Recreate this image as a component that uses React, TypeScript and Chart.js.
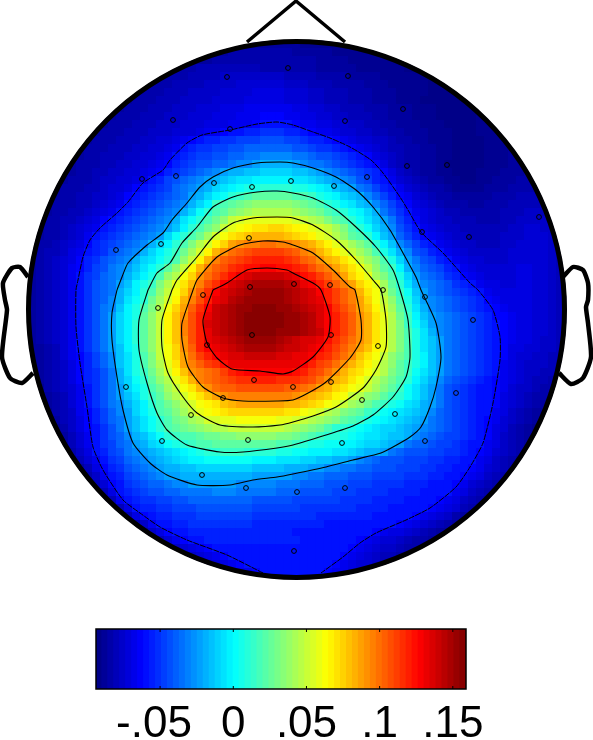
import React, { useEffect, useRef } from "react";
import { Chart, registerables } from "chart.js";

Chart.register(...registerables);

// Potential scale
const valueMin = -0.0938;
const valueMax = 0.159;
const levelAlphabet = "0123456789ABCDEFGHIJKLMNOPQRSTUVWXYZabcdefghijklmnopqrstuvwxyz";
const colorbarLevels = levelAlphabet;
const tickValues = [-0.05, 0, 0.05, 0.1, 0.15];
const tickLabels = ["-.05 ", "0", ".05", ".1", ".15"];
// Colour level that each character of the scalp rows stands for, checked against the colour bar
const heatLevelTable = [0,0.6,1.4,2.2,3,3.9,4.7,5.5,6.3,7.3,8.2,9.2,10.2,11.2,12.2,13.3,14.4,15.5,17,18,19.1,20.2,21.2,22.2,23.3,24.3,25.3,26.3,27.4,28.4,29.5,30.5,31.5,32.6,33.6,34.7,35.7,36.7,37.7,38.8,39.8,40.8,41.9,42.9,43.9,45,46,47,48,49,50,51,52,53,54,55,56,57,58,59,60,61];

// Scalp map: one character per grid cell = one colour level
const heatStartsTop = [26,22,20,17,16,14,13,11,10,9,8,7,6,6,5,4,4,3,3,2,2,1,1,1];
const heatStartsUpper = [0,0,0,0,0,0,0,0,0,0,0,0,0,0,0,0,0,0];
const heatStartsLower = [0,1,1,1,2,2,3,3,4,4,5,6,6,7,8,9,10,11,13,14,16,17,19,21,24];
const heatRowsTop = [
  "222222221111111",
  "22233333333222221111111",
  "222 3333333333333 2222 111111 0",
  "233344444444333333322222111111000",
  "233344445555555544443333222211111000",
  "2 333 4444 5555 666666 555 444 3333 222 11111 000",
  "2 333 444 5555 6666 7777 666 55 444 333 222 1111 0000",
  "22 333 444 5555 6666 77777 666 55 444 333 222 111 0000000",
  "22 333 444 555 666 777 888888 77 66 55 444 333 222 111 000000",
  "22 333 444 555 666 777 888 999 88 77 66 55 444 33 222 111 00000 11",
  "22 333 444 555 666 777 888 9 AAAA 9 88 77 66 55 44 33 222 111 0000 111",
  "22 333 444 555 666 7 88 9 AA BB CCC BB A 9 88 7 66 55 44 33 222 111 000 111 2",
  "22 333 444 55 66 7 8 9 A BB CC DDD EEE DD C BB A 9 8 7 66 55 4 33 22 111 0000 111 2",
  "2 333 444 55 66 7 8 A B CC DD EE FFFFFF EE D CC B A 9 8 7 6 5 44 33 22 11 0000 111 2",
  "22 33 444 55 66 7 8 A B C DD EE FF GG HHHH GG F EE D C B A 9 7 6 5 4 33 22 11 0000 111 22",
  "22 333 44 55 66 7 8 9 B C D EE FF G HH I JJJJ I H GG F E D C B A 9 7 5 4 33 22 1 00000 111 222",
  "22 33 44 55 66 7 8 9 B C D E F G H I JJ KK LLLL KK J I H G F E D C B 9 7 5 4 3 22 11 000 111 222 3",
  "22 333 4 55 66 7 8 A B D E F G H I J K L MM NNNNN MM L K J I H G E D B A 8 6 5 4 3 22 11 00 11 222 333",
  "2 333 44 5 66 7 9 A B C D F G H I J L M N O PP QQQQ PP O N M K J I G F D B A 8 6 5 4 33 2 1111 222 3333",
  "22 33 44 55 6 7 9 A B C D E F G I J L N O Q R S TTTTT SS R P O N L K J H F D B 9 8 6 5 4 33 22222 333 4444",
  "2 333 44 5 6 7 8 A B C D E F G H J L N R S T U V WWWWW V U T S Q P N M K J H F D B 9 7 6 5 4 333 22 333 44444",
  "22 33 44 5 6 7 8 A B C D E F G H J L O Q S T V W X YYYYY X W V U S R Q O N L J G E C A 8 7 6 5 44 33333 444 55 44",
  "2 33 44 5 6 7 9 A B C D E F G H J M O Q S U W Z a bbbbbb a Z Y X V T S Q O M K I G D B 9 7 6 55 444 333 44 5555 4",
  "2 33 4 5 6 7 8 A B C D E F G H I K N Q S U W Z b c d ee ff e d c b a Z X V S Q O L J H E C A 8 7 6 55 444444 55 66 55 4",
];
const heatRowsUpper = [
  "22 33 4 5 6 8 A B C D E F G H I L O Q S U X a c e f g hhhh g f e d b a Y W T S Q N K I F D B 9 8 7 6 55 4444 555 666 5 4",
  "2 33 4 5 6 7 9 B C D E F G H J L N Q S V Y a d f i j kk ll kk j i h f d b Z X V T Q N K H F D B A 8 7 6 55 444 55 6666 5 4",
  "2 3 44 5 7 8 A B C E F G H J L N P R U X a d h j l m n oooo n m k j h f d b Z X V S P M J H E D B A 8 7 6 55555 66666 5 4 3",
  "2 3 4 5 6 7 9 B C E F G H J L M O Q S W Z d h k m n o p qqqq p o m l j h g e c Z X V S P L I G E D B A 8 7 66 555 66666 5 4 3",
  "2 3 4 5 6 8 9 B D E G H I K M O Q T W Z d h k m n p q rr ss rr q p n l k i g e c Z W T R N J H F E D B A 8 7 66666 77 66 5 4 3",
  "2 3 4 5 6 8 A C D F G H J L N P S W Y c f j l n p r t u vvvv u t r q o m k i f d b X V S P L I G F E C B 9 8 7 6666 77 66 5 4 3",
  "2 3 4 5 6 8 A C E F G I K N P R V Y b e h k n p s u v w xxxx w v t s q o m k i f d b X T Q M J H G F E C B A 8 77 66 77 66 5 4 3",
  "2 3 4 5 6 8 A C E F G J L N Q S W Z c f j m p s u v w x yyyy x w v u s q o m k h e c Y U R O K I G F E D C B A 8 77777 66 5 4 3",
  "2 3 4 5 6 8 A C E F H J M O Q U X a d h k n q t u w x yyyyy x w v u t q o m k i f c Z W S P L I H G F E D C B 9 8 7777 66 5 4 3",
  "2 3 4 5 6 8 A C E G H K N P S V Y c f i m p s v w x yy zzz yy x w v u s p n l i g d a X T Q M J H G F E D C B A 9 8 777 66 5 4 3",
  "2 3 4 5 6 8 A C E G I L N P T W Z d g j n q t v w x y zzzzz yy x w u s q o m j h e b Y U R N K I H G F E D C B 99 8 77 66 5 4 3",
  "2 3 4 5 6 8 A C E G I L N Q T W Z d g k n q u v w x y zzzzz yy x w u s q o m j h e b Y V R O L I H G F E D C B A 9 8 77 66 5 4 3",
  "2 3 4 5 6 8 A C E G I L N Q T W Z d g k n q t v w x y zzzz yyy x w v s q o m j h e b Y V S P M J H G F E D C B A 9 8 77 66 5 4 3",
  "2 3 4 5 6 8 A C E G I L N Q T W Z d g j n q t u v w x yyyy x w v uu t r p n l j h e b Y V S P M K I G F E D C B A 9 8 77 6 55 4 3",
  "22 3 4 6 8 A C E G I K N P T W Z c f j m q s t u v w xxxx w vv u t s q o m k i g d b Y V S P M K I G F E D C B A 9 77 66 55 4 3",
  "22 3 4 6 8 9 B D F H K M P S V Z c f i l o q s t uu vvvv uu tt s q p n l j g e c Z W U S P N K I G F E D C B A 9 7 66 55 44 3",
  "22 3 4 5 7 9 B D F H K M P S V Y b e i k m o p r ttttttttt s q o n l j h f d b Y W T R P N K I G F E D C B A 8 7 6 555 4 33",
  "22 3 4 5 7 9 B C E G J M P R U X a d g j k l m o q r ssssss r q o n l j h f e c a Y V T R O M K I G F E D C B A 8 7 6 55 44 3 2",
];
const heatRowsLower = [
  "1 2 3 4 5 7 9 B C E G J L O Q T W Y b e h k l m n o pp qqq ppp o n l j h g e c a Y W U S Q N L J H F E D C B A 9 8 7 6 5 44 3 2",
  "1 3 4 5 6 8 A C E G I L N P S U X Z c e h j l mm nnnnnn mm l k i h f e c b Z X V T R O M K I G E D C B AA 9 8 6 55 4 33 2",
  "1 2 3 4 6 8 A C E G I K M P R T W Y a c e g i j kkkkkkkk j i h g f d c Z Y W V T R Q O M K I G E D C B AA 9 7 6 5 4 33 2",
  "1 2 3 4 6 8 A C E G H J L N Q S U W Y a c d e g h iiiiii hh g f e c b Z X W U S R P O M L J I G E D C B AA 9 7 6 5 4 3 22",
  "1 3 4 5 8 9 B D F H I L N P S T V X Z b c d e fffffff ee c b a Y X V U T R Q O N M L K J H F E D C B AA 8 7 5 4 3 2 1",
  "1 2 4 5 7 9 B D F G I K M O Q S U V X Y aa bb ccccc bb a Z Y X W V T S R P O N M L K J I G F E D C B A 9 8 6 5 4 3 2 1",
  "1 3 5 7 9 A C E G I K M O Q S T U V W X YY ZZZZZZZ Y X W V U S Q Q P O N M L L K J I H G F E D C B A 9 7 6 4 3 2 1",
  "1 2 4 6 8 A C E F H J K M O Q R SS T UU VV WWWWW VV U T S R QQ P O N MM L KK J H G F E DD C B A 9 7 5 4 3 2 1",
  "2 4 6 8 A C D F G I J L M O P Q R SS TTTTTTTT SS R Q PP OO NN M LL K J I G FF E DD C B AA 8 7 5 4 3 2",
  "1 3 5 7 A B D E G H I J K L M N O P QQ RRR QQQQ PP OO NNN MM L K J J I G F EEE DD CC B A 9 8 6 5 4 3 2",
  "2 4 6 8 A C D F G H I J K L M NN OOOOOO NNN MMM LL KK JJ I H G F EEE DDD CC BB AA 8 7 5 4 3 2",
  "2 4 7 9 B C E F G H I JJ KK LLLLLLL KKKK JJJ II HH GG FF EEE DDD CC BB AA 9 8 6 5 4 3 2",
  "1 3 5 8 A B D E F G H II JJJJJJJJJ IIIII HH GG FFF EEE DDDD CCC BB AA 9 8 7 5 4 3 2",
  "2 4 6 9 A C D E FF G HH IIIIII HHHHH GGG FFF EEE DDD CCCC BBB AAA 9 8 6 5 4 3 2",
  "2 4 7 A B C D EE FF GGGG HHH GGGGG FFF EEEE DDD CCCC BBBB AAAA 8 7 5 4 3 2",
  "2 4 8 A B CC DD EE FFFFFFFF EEEEE DDDDDD CCCC BBBB AAAA 9 8 7 5 4 3 2",
  "2 4 7 A BB CC DDD EEEEEEE DDDDDD CCCCCCC BBBB AAAAA 9 8 7 6 4 3 2",
  "2 4 7 9 A BB CCC DDDDDDD CCCCCCCC BBBBBBB AAAAA 9 8 7 6 5 3 2 1",
  "3 5 8 AA BB CCCCCCCC BBBBBBBBB AAAAAAAAA 9 8 7 6 5 4 3 2",
  "3 5 7 9 AA BBBBBBBBBBBBB AAAAAAAAAA 9 8 77 6 5 4 3 22",
  "4 6 8 9 AA BBBBBBBBBBBB AAAAAAA 9 8 7 66 5 4 33 22",
  "4 5 6 7 8 9 AAAAAAAAAAAAAAAAA 9 8 7 6 55 4 33 2",
  "4 5 6 7 8 9 AAAAAAAAAAAAAA 9 8 7 6 5 44 33",
  "4 5 6 7 8 9 AAAAAAAAAAA 9 8 7 66 5 44",
  "7 7 8 8 9 AAAAAAAA 9 88 77 6",
];

// Contour lines, outermost (dashed) to innermost
const contourOuter = [[263,573],[227,555],[187,540],[160,527],[140,513],[123,500],[103,470],[93,447],[87,407],[80,363],[76,327],[76,290],[78,280],[83,257],[90,240],[100,228],[117,213],[128,202],[143,183],[163,170],[170,160],[187,143],[202,135],[230,130],[257,124],[277,122],[293,125],[313,132],[330,138],[350,147],[371,160],[383,173],[400,197],[408,210],[421,232],[443,253],[470,283],[478,290],[493,310],[500,337],[500,360],[493,403],[483,443],[470,467],[456,487],[430,508],[406,520],[376,533],[360,543],[343,557],[321,573]];
const contour2 = [[117,290],[122,277],[128,263],[147,245],[163,233],[172,220],[187,203],[200,187],[213,177],[233,168],[257,163],[280,162],[293,163],[313,168],[336,177],[356,190],[373,207],[390,230],[403,253],[416,277],[421,290],[436,323],[441,357],[436,387],[430,407],[421,427],[410,437],[393,447],[381,453],[353,460],[326,467],[293,474],[277,477],[253,480],[230,485],[197,485],[167,475],[150,463],[133,443],[123,410],[117,377],[112,340],[112,313],[117,290]];
const contour3 = [[148,290],[157,273],[170,263],[182,243],[197,227],[213,207],[233,197],[257,192],[277,191],[293,193],[313,198],[336,210],[356,227],[376,247],[393,270],[400,290],[408,320],[410,357],[406,377],[393,397],[373,415],[353,426],[326,435],[293,445],[277,448],[243,452],[220,452],[187,445],[167,430],[157,413],[147,383],[139,350],[139,320],[148,290]];
const contour4 = [[172,290],[177,280],[197,257],[213,237],[233,223],[253,218],[277,217],[293,218],[313,225],[336,240],[356,260],[373,280],[381,290],[386,320],[386,347],[376,370],[363,388],[336,407],[313,416],[293,422],[280,425],[253,427],[220,425],[197,413],[183,397],[168,373],[162,347],[162,320],[172,290]];
const contour5 = [[193,290],[197,280],[217,257],[240,245],[263,241],[283,242],[293,245],[313,253],[333,270],[350,287],[355,290],[361,320],[361,340],[350,358],[326,382],[310,392],[293,400],[277,401],[243,401],[223,398],[203,387],[188,367],[182,340],[182,323],[193,290]];
const contour6 = [[213,290],[227,283],[247,270],[267,268],[287,270],[293,273],[313,283],[321,290],[330,317],[328,337],[313,357],[293,371],[283,374],[260,371],[232,369],[217,358],[207,343],[203,320],[213,290]];

const electrodes = [[227,77],[288,68],[173,120],[230,129],[142,179],[176,176],[214,183],[252,187],[291,181],[116,250],[161,244],[249,238],[203,295],[250,287],[294,284],[348,76],[403,109],[345,121],[407,166],[447,165],[367,177],[334,186],[539,217],[422,232],[469,237],[383,290],[425,297],[330,285],[158,308],[252,335],[207,345],[254,380],[293,387],[126,387],[223,398],[191,415],[248,440],[162,441],[202,475],[246,488],[297,492],[294,551],[473,320],[378,346],[331,335],[331,382],[362,400],[395,414],[456,393],[342,443],[425,441],[345,488]];

const headCentre = [296.5, 309.5];
const nose = [[247,42],[296,1],[345,42]];
const earLeft = [[28,277],[20,267],[12,268],[3,283],[5,300],[7,310],[2,357],[10,378],[22,383],[33,373]];
const earRight = [[563,277],[573,267],[583,270],[588,283],[588,300],[586,307],[588,323],[591,357],[583,378],[571,384],[559,373]];

const clamp = (v: number) => Math.max(0, Math.min(1, v));
const jet = (value: number) => {
  const t = clamp((value - valueMin) / (valueMax - valueMin));
  const r = clamp(1.5 - Math.abs(4 * t - 3));
  const g = clamp(1.5 - Math.abs(4 * t - 2));
  const b = clamp(1.5 - Math.abs(4 * t - 1));
  return `rgb(${Math.round(r * 255)},${Math.round(g * 255)},${Math.round(b * 255)})`;
};
const levelToValue = (level: number) =>
  valueMin + ((level + 0.5) / levelAlphabet.length) * (valueMax - valueMin);
const barValue = (ch: string) => levelToValue(levelAlphabet.indexOf(ch));
const heatValue = (ch: string) => levelToValue(heatLevelTable[levelAlphabet.indexOf(ch)]);
const pts = (list: number[][]) => list.map(([x, y]) => ({ x, y }));

export default function App() {
  const headRef = useRef<HTMLCanvasElement>(null);
  const barRef = useRef<HTMLCanvasElement>(null);

  useEffect(() => {
    const heatRows = [...heatRowsTop, ...heatRowsUpper, ...heatRowsLower];
    const heatStarts = [...heatStartsTop, ...heatStartsUpper, ...heatStartsLower];
    const heatPoints: { x: number; y: number }[] = [];
    const heatColors: string[] = [];
    heatRows.forEach((row, r) => {
      [...row.replace(/ /g, "")].forEach((ch, k) => {
        heatPoints.push({ x: 32 + 8 * (heatStarts[r] + k), y: 44 + 8 * r });
        heatColors.push(jet(heatValue(ch)));
      });
    });

    const line = (data: number[][], width: number, order: number, dash: number[] = [], tension = 0.2) => ({
      data: pts(data),
      showLine: true,
      pointRadius: 0,
      borderColor: "#000",
      borderWidth: width,
      borderDash: dash,
      tension,
      order,
      fill: false,
      borderJoinStyle: "round" as const,
    });

    const heatClip = {
      id: "heatClip",
      beforeDatasetDraw(chart: any, args: any) {
        if (args.index !== 1) return;
        const { x, y } = chart.scales;
        const { ctx } = chart;
        ctx.save();
        ctx.beginPath();
        ctx.arc(
          x.getPixelForValue(headCentre[0]),
          y.getPixelForValue(headCentre[1]),
          x.getPixelForValue(headCentre[0] + 270) - x.getPixelForValue(headCentre[0]),
          0,
          Math.PI * 2
        );
        ctx.clip();
      },
      afterDatasetDraw(chart: any, args: any) {
        if (args.index === 1) chart.ctx.restore();
      },
    };

    const head = new Chart(headRef.current as HTMLCanvasElement, {
      type: "scatter",
      data: {
        datasets: [
          {
            data: pts([headCentre]),
            pointRadius: 268,
            pointBackgroundColor: jet(heatValue("3")),
            pointBorderWidth: 0,
            order: 60,
          },
          {
            data: heatPoints,
            pointStyle: "rect",
            pointRadius: 5.66,
            pointBorderWidth: 0,
            pointBackgroundColor: heatColors,
            order: 50,
          },
          line(contourOuter, 1, 40, [6, 1]),
          line(contour2, 1.1, 39),
          line(contour3, 1.1, 38),
          line(contour4, 1.1, 37),
          line(contour5, 1.1, 36),
          line(contour6, 1.1, 35),
          {
            data: pts(electrodes),
            pointRadius: 2.4,
            pointBorderWidth: 1,
            pointBorderColor: "#000",
            pointBackgroundColor: "rgba(0,0,0,0)",
            order: 30,
          },
          {
            data: pts([headCentre]),
            pointRadius: 268,
            pointBorderWidth: 5,
            pointBorderColor: "#000",
            pointBackgroundColor: "rgba(0,0,0,0)",
            order: 10,
          },
          line(nose, 3.5, 9, [], 0),
          line(earLeft, 4.5, 8),
          line(earRight, 4.5, 7),
        ] as any,
      },
      options: {
        responsive: false,
        animation: false,
        events: [],
        layout: { padding: 0, autoPadding: false },
        plugins: { legend: { display: false }, tooltip: { enabled: false } },
        scales: {
          x: { type: "linear", display: false, min: 0, max: 593 },
          y: { type: "linear", display: false, min: 0, max: 600, reverse: true },
        },
      },
      plugins: [heatClip],
    } as any);

    const barFrame = {
      id: "barFrame",
      afterDatasetsDraw(chart: any) {
        const { ctx, chartArea, scales } = chart;
        ctx.save();
        ctx.strokeStyle = "#000";
        ctx.lineWidth = 1.5;
        ctx.strokeRect(chartArea.left, chartArea.top, chartArea.right - chartArea.left, chartArea.bottom - chartArea.top);
        tickValues.forEach((v) => {
          const px = scales.x.getPixelForValue(v);
          ctx.beginPath();
          ctx.moveTo(px, chartArea.top);
          ctx.lineTo(px, chartArea.top + 3);
          ctx.moveTo(px, chartArea.bottom);
          ctx.lineTo(px, chartArea.bottom - 3);
          ctx.lineWidth = 1;
          ctx.stroke();
        });
        ctx.restore();
      },
    };

    const bar = new Chart(barRef.current as HTMLCanvasElement, {
      type: "bar",
      data: {
        datasets: [
          {
            data: [...colorbarLevels].map((ch) => ({ x: barValue(ch), y: 1 })),
            backgroundColor: [...colorbarLevels].map((ch) => jet(barValue(ch))),
            borderWidth: 0,
            barThickness: 6.6,
          },
        ],
      },
      options: {
        responsive: false,
        animation: false,
        events: [],
        layout: { padding: { left: 96, right: 127, top: 29, bottom: 0 } },
        plugins: { legend: { display: false }, tooltip: { enabled: false } },
        scales: {
          x: {
            type: "linear",
            min: valueMin,
            max: valueMax,
            offset: false,
            grid: { display: false },
            border: { display: false },
            afterBuildTicks(scale: any) {
              scale.ticks = tickValues.map((value) => ({ value }));
            },
            afterFit(scale: any) {
              scale.height = 51;
              scale.paddingLeft = 0;
              scale.paddingRight = 0;
            },
            ticks: {
              autoSkip: false,
              maxRotation: 0,
              padding: 6,
              color: "#000",
              font: { family: "'Liberation Sans'", size: 44, lineHeight: 1 },
              callback: (_v: any, i: number) => tickLabels[i],
            },
          },
          y: { display: false, min: 0, max: 1 },
        },
      },
      plugins: [barFrame],
    } as any);

    return () => {
      head.destroy();
      bar.destroy();
    };
  }, []);

  return (
    <div style={{ position: "absolute", left: 0, top: 0, width: 593, height: 740, background: "#fff", overflow: "hidden" }}>
      <canvas ref={headRef} width={593} height={600} style={{ position: "absolute", left: 0, top: 0, width: 593, height: 600 }} />
      <canvas ref={barRef} width={593} height={140} style={{ position: "absolute", left: 0, top: 600, width: 593, height: 140 }} />
    </div>
  );
}
